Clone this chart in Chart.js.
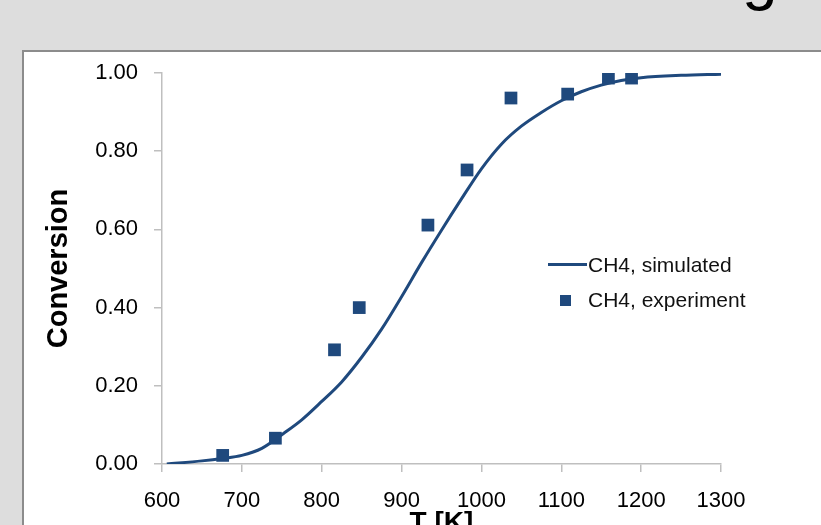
<!DOCTYPE html>
<html>
<head>
<meta charset="utf-8">
<title>CH4 conversion vs temperature</title>
<script src="https://cdn.jsdelivr.net/npm/chart.js@4.4.1/dist/chart.umd.min.js"></script>
<style>
  html, body {
    margin: 0;
    padding: 0;
    width: 821px;
    height: 525px;
    overflow: hidden;
    background: #dddddd;
    font-family: "Liberation Sans", Arial, sans-serif;
  }
  /* tail of the slide title, cut off by the top edge */
  #slide-title {
    position: absolute;
    left: 742px;
    top: -56px;
    font-size: 64px;
    line-height: 1;
    color: #000;
  }
  #panel {
    position: absolute;
    left: 22px;
    top: 50px;
    width: 900px;
    height: 600px;
    box-sizing: border-box;
    background: #fff;
    border: 2px solid #8c8c8c;
  }
  #chart {
    position: absolute;
    left: 0;
    top: 0;
    display: block;
  }
  .legend-line {
    position: absolute;
    left: 548px;
    top: 263px;
    width: 39px;
    height: 3px;
    background: #1f497d;
  }
  .legend-box {
    position: absolute;
    left: 560px;
    top: 295px;
    width: 11px;
    height: 11px;
    background: #1f497d;
  }
  .legend-text {
    position: absolute;
    left: 588px;
    font-size: 21px;
    line-height: 24px;
    color: #111;
    white-space: nowrap;
  }
</style>
</head>
<body>
<div id="slide-title">g</div>
<div id="panel"></div>
<canvas id="chart" width="821" height="560"></canvas>
<div class="legend-line"></div>
<div class="legend-text" style="top:253px">CH4, simulated</div>
<div class="legend-box"></div>
<div class="legend-text" style="top:288px">CH4, experiment</div>

<script>
// simulated curve
const simTemps = [606, 650, 675, 700, 725, 750, 775, 800, 825, 850, 875, 900, 925,
                  950, 975, 1000, 1025, 1050, 1075, 1100, 1125, 1150, 1175, 1200, 1250, 1300];
const simConversion = [0.000, 0.008, 0.014, 0.022, 0.040, 0.075, 0.113, 0.160, 0.210,
                       0.273, 0.345, 0.428, 0.515, 0.598, 0.678, 0.755, 0.818, 0.864,
                       0.899, 0.929, 0.952, 0.969, 0.981, 0.988, 0.994, 0.997];

// measured points
const expTemps = [676, 742, 816, 847, 933, 982, 1037, 1108, 1159, 1188];
const expConversion = [0.022, 0.066, 0.292, 0.400, 0.611, 0.752, 0.936, 0.946, 0.987, 0.987];

const xTicks = [600, 700, 800, 900, 1000, 1100, 1200, 1300];
const yTicks = [0, 0.2, 0.4, 0.6, 0.8, 1.0];

const SERIES_COLOR = "#1f497d";
const AXIS_COLOR = "#bfbfbf";
const FONT = "'Liberation Sans', Arial, sans-serif";

function toPoints(xs, ys) {
  return xs.map((x, i) => ({ x, y: ys[i] }));
}

const ctx = document.getElementById("chart").getContext("2d");

new Chart(ctx, {
  type: "scatter",
  data: {
    datasets: [
      {
        label: "CH4, simulated",
        data: toPoints(simTemps, simConversion),
        showLine: true,
        borderColor: SERIES_COLOR,
        borderWidth: 3,
        pointRadius: 0,
        cubicInterpolationMode: "monotone",
        order: 2,
      },
      {
        label: "CH4, experiment",
        data: toPoints(expTemps, expConversion),
        pointStyle: "rect",
        pointRadius: 9,
        backgroundColor: SERIES_COLOR,
        borderWidth: 0,
        order: 1,
      },
    ],
  },
  options: {
    responsive: false,
    animation: false,
    layout: { padding: { left: 30, top: 73, right: 100, bottom: 0 } },
    plugins: {
      legend: { display: false },
      tooltip: { enabled: false },
    },
    scales: {
      x: {
        type: "linear",
        min: xTicks[0],
        max: xTicks[xTicks.length - 1],
        afterBuildTicks: (s) => { s.ticks = xTicks.map((v) => ({ value: v })); },
        ticks: {
          callback: (v) => String(v),
          color: "#000",
          padding: 16,
          maxRotation: 0,
          font: { family: FONT, size: 22 },
        },
        grid: { drawOnChartArea: false, drawTicks: true, tickLength: 8, color: AXIS_COLOR, lineWidth: 1.5 },
        border: { color: AXIS_COLOR, width: 1.5 },
        title: {
          display: true,
          text: "T [K]",
          color: "#000",
          font: { family: FONT, size: 28, weight: "bold" },
          padding: { top: 0, bottom: 20 },
        },
        afterFit: (s) => { s.height = 96; },
      },
      y: {
        min: yTicks[0],
        max: yTicks[yTicks.length - 1],
        afterBuildTicks: (s) => { s.ticks = yTicks.map((v) => ({ value: v })); },
        ticks: {
          callback: (v) => v.toFixed(2),
          color: "#000",
          padding: 16,
          font: { family: FONT, size: 22 },
        },
        grid: { drawOnChartArea: false, drawTicks: true, tickLength: 8, color: AXIS_COLOR, lineWidth: 1.5 },
        border: { color: AXIS_COLOR, width: 1.5 },
        title: {
          display: true,
          text: "Conversion",
          color: "#000",
          font: { family: FONT, size: 29, weight: "bold" },
          padding: { top: 12, bottom: 0 },
        },
        afterFit: (s) => { s.width = 132; },
      },
    },
  },
});
</script>
</body>
</html>
